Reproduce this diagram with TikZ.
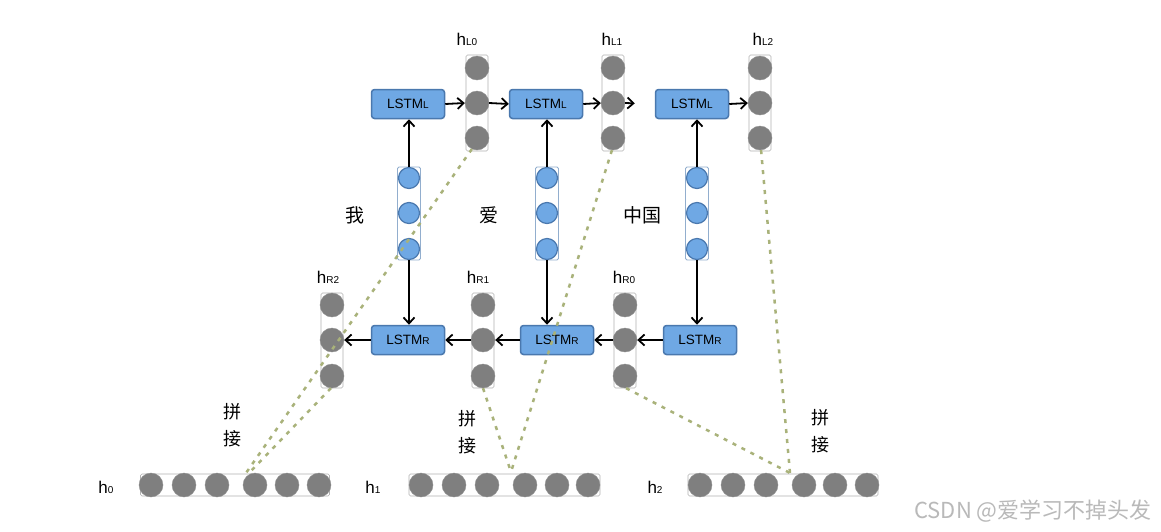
\documentclass[tikz,border=0pt]{standalone}
\usepackage{fontspec}
\setmainfont{Liberation Sans}
\newfontfamily\cjk{Noto Sans CJK SC}
\usetikzlibrary{arrows.meta}
\definecolor{gcol}{HTML}{7F7F7F}
\definecolor{bfill}{HTML}{6FA8E4}
\definecolor{bdraw}{HTML}{4A78AE}
\definecolor{dcol}{HTML}{A9B27A}
\newcommand\myh[1]{{\fontsize{17}{17}\selectfont h}{\fontsize{10}{10}\selectfont #1}}
\newcommand\mylstm[1]{{\fontsize{13.5}{13.5}\selectfont LSTM}{\fontsize{10}{10}\selectfont #1}}
\begin{document}
\begin{tikzpicture}[x=1pt,y=-1pt,
  gc/.style={circle,fill=gcol,draw=gcol!85!white,minimum size=24pt,inner sep=0pt},
  bc/.style={circle,fill=bfill,draw=bdraw,line width=1.2pt,minimum size=21pt,inner sep=0pt},
  col/.style={draw=gray!60,line width=0.6pt,fill=white,rounded corners=1.5pt},
  bcol/.style={draw=bdraw!60!white,line width=0.9pt,fill=white,rounded corners=1.5pt},
  lbox/.style={rectangle,rounded corners=3pt,fill=bfill,draw=bdraw,line width=1.5pt,minimum width=73pt,minimum height=29pt,inner sep=0pt},
  arr/.style={line width=1.8pt,-{Straight Barb[length=6pt,width=11pt,line width=1.8pt]}},
  dl/.style={dcol,line width=2.5pt,dash pattern=on 4pt off 6pt},
  lab/.style={inner sep=0pt},
  zh/.style={inner sep=0pt,font=\cjk\fontsize{19}{19}\selectfont}]
\useasboundingbox (0,0) rectangle (1161,531);
\fill[white] (0,0) rectangle (1161,531);

% ---------- hL columns ----------
\foreach \n/\x in {0/477,1/613,2/760}{
  \draw[col] (\x-11,55) rectangle (\x+11,151);
  \node[gc] (hL\n a) at (\x,68) {};
  \node[gc] (hL\n b) at (\x,103) {};
  \node[gc] (hL\n c) at (\x,138) {};
}
\node[lab] (lhL0) at (467,39) {\myh{L0}};
\node[lab] (lhL1) at (612,39) {\myh{L1}};
\node[lab] (lhL2) at (763,39) {\myh{L2}};

% ---------- hR columns ----------
\foreach \n/\x in {2/332,1/483,0/625}{
  \draw[col] (\x-11,293) rectangle (\x+11,388);
  \node[gc] (hR\n a) at (\x,305) {};
  \node[gc] (hR\n b) at (\x,340) {};
  \node[gc] (hR\n c) at (\x,376) {};
}
\node[lab] (lhR2) at (328,277) {\myh{R2}};
\node[lab] (lhR1) at (478,277) {\myh{R1}};
\node[lab] (lhR0) at (624,277) {\myh{R0}};

% ---------- embedding columns ----------
\foreach \n/\x in {1/409,2/547,3/697}{
  \draw[bcol] (\x-11.5,167) rectangle (\x+11.5,260);
  \coordinate (e\n t) at (\x,167);
  \coordinate (e\n b) at (\x,260);
  \node[bc] (e\n a) at (\x,178) {};
  \node[bc] (e\n m) at (\x,213) {};
  \node[bc] (e\n c) at (\x,249) {};
}
\node[zh] (w1) at (355,215) {我};
\node[zh] (w2) at (489,215) {爱};
\node[zh] (w3) at (642,215) {中国};

% ---------- LSTM boxes ----------
\node[lbox] (L1) at (408,104) {\mylstm{L}};
\node[lbox] (L2) at (546,104) {\mylstm{L}};
\node[lbox] (L3) at (692,104) {\mylstm{L}};
\node[lbox] (R1) at (408,340) {\mylstm{R}};
\node[lbox] (R2) at (557,340) {\mylstm{R}};
\node[lbox] (R3) at (700,340) {\mylstm{R}};

% ---------- arrows ----------
\draw[arr] (e1t) -- (e1t |- L1.south);
\draw[arr] (e2t) -- (e2t |- L2.south);
\draw[arr] (e3t) -- (e3t |- L3.south);
\draw[arr] (e1b) -- (e1b |- R1.north);
\draw[arr] (e2b) -- (e2b |- R2.north);
\draw[arr] (e3b) -- (e3b |- R3.north);

\draw[arr] (L1.east) -- (hL0b.west);
\draw[arr] (hL0b.east) -- (L2.west);
\draw[arr] (L2.east) -- (hL1b.west);
\draw[arr,shorten >=20pt] (hL1b.east) -- (L3.west);
\draw[arr] (L3.east) -- (hL2b.west);

\draw[arr] (R3.west) -- (hR0b.east);
\draw[arr] (hR0b.west) -- (R2.east);
\draw[arr] (R2.west) -- (hR1b.east);
\draw[arr] (hR1b.west) -- (R1.east);
\draw[arr] (R1.west) -- (hR2b.east);

% ---------- concatenated rows ----------
\draw[col] (140.5,474) rectangle (329.5,496);
\foreach \i/\x in {1/151,2/184,3/217,4/255,5/287,6/319}{ \node[gc] (a\i) at (\x,485) {}; }
\draw[col] (409,474) rectangle (600,496);
\foreach \i/\x in {1/421,2/454,3/487,4/525,5/557,6/588}{ \node[gc] (b\i) at (\x,485) {}; }
\draw[col] (688,474) rectangle (878,496);
\foreach \i/\x in {1/700,2/733,3/766,4/804,5/835,6/867}{ \node[gc] (c\i) at (\x,485) {}; }

\node[lab] (lh0) at (106,487) {\myh{0}};
\node[lab] (lh1) at (373,487) {\myh{1}};
\node[lab] (lh2) at (655,487) {\myh{2}};

\node[zh,align=center,font=\cjk\fontsize{18}{27}\selectfont] (p0) at (232,425) {拼\\接};
\node[zh,align=center,font=\cjk\fontsize{18}{27}\selectfont] (p1) at (467,432) {拼\\接};
\node[zh,align=center,font=\cjk\fontsize{18}{27}\selectfont] (p2) at (820,431) {拼\\接};

% ---------- dashed links ----------
\coordinate (j0a) at (246,473);
\coordinate (j0b) at (249,473);
\coordinate (j1) at (511,472);
\coordinate (j2) at (790,473);
\draw[dl] (hL0c.-115) -- (j0a);
\draw[dl] (hR2c.-95) -- (j0b);
\draw[dl] (hR1c.-90) -- (j1);
\draw[dl] (hL1c.-95) -- (j1);
\draw[dl] (hR0c.-85) -- (j2);
\draw[dl] (hL2c.-85) -- (j2);

% ---------- watermark ----------
\node[lab,text=gray!55,font=\cjk\fontsize{22}{22}\selectfont] (wm) at (1033,511) {CSDN @爱学习不掉头发};
\end{tikzpicture}
\end{document}
